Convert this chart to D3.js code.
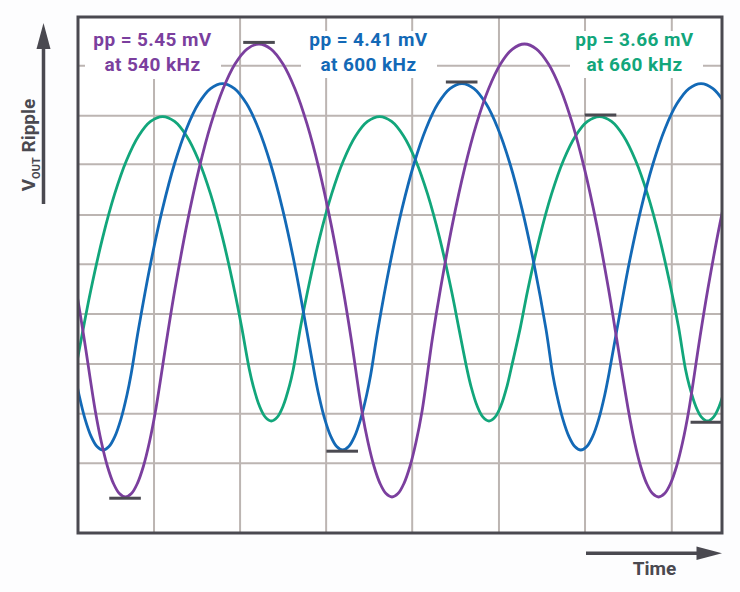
<!DOCTYPE html>
<html><head><meta charset="utf-8">
<script src="https://cdn.jsdelivr.net/npm/d3@7"></script>
<style>
html,body{margin:0;padding:0;background:#fdfdfe;}
svg{display:block;}
text{font-family:Roboto,"Liberation Sans",sans-serif;font-weight:700;}
</style></head><body>
<svg id="chart" width="740" height="592"></svg>
<script>
// ---- data (time in µs, ripple in mV) ----
const timeDomain = [0, 4.49];
const rippleDomain = [-3.183, 3.027];
const gridTimes = [0.53, 1.13, 1.73, 2.33, 2.935, 3.535, 4.14];
const gridRipples = [2.441, 1.839, 1.254, 0.644, 0.051, -0.548, -1.149, -1.747, -2.344];

// extrema of each trace (time, value, kind)
const purpleExtT = [-0.5996, 0.3305, 1.2619, 2.1892, 3.1130, 4.0480, 4.9773];
const purpleExtV = [2.702, -2.750, 2.702, -2.750, 2.702, -2.750, 2.702];
const blueExtT = [0.1743, 1.0075, 1.8455, 2.6772, 3.5055, 4.3436];
const blueExtV = [-2.184, 2.226, -2.184, 2.226, -2.184, 2.226];
const greenExtT = [-0.1715, 0.5898, 1.3477, 2.1027, 2.8655, 3.6359, 4.3888];
const greenExtV = [-1.835, 1.829, -1.835, 1.829, -1.835, 1.829, -1.835];

// measured wave profile around a trough / a peak: time offset (µs) -> distance from the extreme (mV)
const purpleTroughDt = [0.0418, 0.0837, 0.1255, 0.1673, 0.2092];
const purpleTroughDv = [0.0412, 0.1646, 0.3704, 0.6586, 1.0290];
const purplePeakDt = [0.0837, 0.1673, 0.2510, 0.3347, 0.4183, 0.5020, 0.5856, 0.6414];
const purplePeakDv = [0.0602, 0.2406, 0.5412, 0.9622, 1.5034, 2.1649, 2.9467, 3.5347];

const blueTroughDt = [0.0418, 0.0837, 0.1255, 0.1673, 0.1952];
const blueTroughDv = [0.0416, 0.1664, 0.3743, 0.6655, 0.9058];
const bluePeakDt = [0.0837, 0.1673, 0.2510, 0.3347, 0.4183, 0.5020, 0.5856];
const bluePeakDv = [0.0603, 0.2412, 0.5428, 0.9650, 1.5077, 2.1711, 2.9552];

const greenTroughDt = [0.0418, 0.0837, 0.1255, 0.1534];
const greenTroughDv = [0.0464, 0.1854, 0.4172, 0.6233];
const greenPeakDt = [0.0837, 0.1673, 0.2510, 0.3347, 0.4183, 0.5020, 0.5508];
const greenPeakDv = [0.0584, 0.2336, 0.5256, 0.9344, 1.4601, 2.1025, 2.5311];

const seriesPP = ["pp = 5.45 mV", "pp = 4.41 mV", "pp = 3.66 mV"];
const seriesFreq = ["at 540 kHz", "at 600 kHz", "at 660 kHz"];
// peak-to-peak markers
const markerT = [1.262, 0.328, 2.675, 1.842, 3.643, 4.381];
const markerV = [2.702, -2.750, 2.226, -2.184, 1.829, -1.835];
const markerKind = ["max", "min", "max", "min", "max", "min"];

// ---- layout / styles ----
const colors = ["#7b3f9e", "#1369b6", "#12a67b"];
const ink = "#4a4950";
const P = {left: 78, top: 17, right: 722, bottom: 533};
const labelBoxes = [[85, 17, 136, 62], [301, 31, 136, 47], [570, 31, 133, 47]];
const labelCX = [152.5, 368.5, 634.5];

const svg = d3.select("#chart");
const x = d3.scaleLinear().domain(timeDomain).range([P.left, P.right]);
const y = d3.scaleLinear().domain(rippleDomain).range([P.bottom, P.top]);

// build the point table of one trace from its extrema and its measured profiles
function trace(extT, extV, trDt, trDv, pkDt, pkDv) {
  const pts = [];
  extT.forEach((t, i) => {
    const v = extV[i];
    const isPeak = i > 0 ? v > extV[i - 1] : v > extV[i + 1];
    const dts = isPeak ? pkDt : trDt, dvs = isPeak ? pkDv : trDv;
    const sgn = isPeak ? -1 : 1;
    pts.push([t, v]);
    dts.forEach((dt, k) => {
      pts.push([t - dt, v + sgn * dvs[k]]);
      pts.push([t + dt, v + sgn * dvs[k]]);
    });
  });
  return pts.sort((a, b) => a[0] - b[0]);
}

svg.append("rect").attr("x", P.left).attr("y", P.top)
  .attr("width", P.right - P.left).attr("height", P.bottom - P.top).attr("fill", "#ffffff");

const grid = svg.append("g").attr("stroke", "#bcb5b2").attr("stroke-width", 2);
grid.selectAll("line.v").data(gridTimes).join("line").attr("class", "v")
  .attr("x1", d => x(d)).attr("x2", d => x(d)).attr("y1", P.top).attr("y2", P.bottom);
grid.selectAll("line.h").data(gridRipples).join("line").attr("class", "h")
  .attr("x1", P.left).attr("x2", P.right).attr("y1", d => y(d)).attr("y2", d => y(d));

svg.append("g").selectAll("rect").data(labelBoxes).join("rect")
  .attr("x", d => d[0]).attr("y", d => d[1]).attr("width", d => d[2]).attr("height", d => d[3])
  .attr("fill", "#ffffff");

svg.append("clipPath").attr("id", "clip").append("rect")
  .attr("x", P.left).attr("y", P.top).attr("width", P.right - P.left).attr("height", P.bottom - P.top);

const series = [
  trace(purpleExtT, purpleExtV, purpleTroughDt, purpleTroughDv, purplePeakDt, purplePeakDv),
  trace(blueExtT, blueExtV, blueTroughDt, blueTroughDv, bluePeakDt, bluePeakDv),
  trace(greenExtT, greenExtV, greenTroughDt, greenTroughDv, greenPeakDt, greenPeakDv)
];
const line = d3.line().x(d => x(d[0])).y(d => y(d[1])).curve(d3.curveCatmullRom.alpha(0.5));
const drawOrder = [2, 1, 0];
svg.append("g").attr("clip-path", "url(#clip)")
  .selectAll("path").data(drawOrder).join("path")
  .attr("d", i => line(series[i]))
  .attr("fill", "none").attr("stroke", i => colors[i])
  .attr("stroke-width", 2.8).attr("stroke-linejoin", "round");

const mk = d3.range(markerT.length);
svg.append("g").attr("clip-path", "url(#clip)").selectAll("line").data(mk).join("line")
  .attr("x1", i => x(markerT[i]) - 15.8).attr("x2", i => x(markerT[i]) + 15.8)
  .attr("y1", i => y(markerV[i]) + (markerKind[i] === "max" ? -1.6 : 1.2))
  .attr("y2", i => y(markerV[i]) + (markerKind[i] === "max" ? -1.6 : 1.2))
  .attr("stroke", "#4b4a51").attr("stroke-width", 3);

svg.append("rect").attr("x", P.left).attr("y", P.top)
  .attr("width", P.right - P.left).attr("height", P.bottom - P.top)
  .attr("fill", "none").attr("stroke", ink).attr("stroke-width", 3);

const lab = svg.append("g").attr("text-anchor", "middle").attr("font-size", 19).style("letter-spacing", "0.4px");
seriesPP.forEach((s, i) => {
  lab.append("text").attr("x", labelCX[i]).attr("y", 46).attr("fill", colors[i]).text(s);
  lab.append("text").attr("x", labelCX[i]).attr("y", 71).attr("fill", colors[i]).text(seriesFreq[i]);
});

// y axis label + arrow
const yl = svg.append("text").attr("transform", "translate(35,145) rotate(-90)")
  .attr("text-anchor", "middle").attr("font-size", 19).attr("fill", ink);
yl.append("tspan").text("V");
yl.append("tspan").attr("font-size", 11).attr("dy", 5).text("OUT");
yl.append("tspan").attr("dy", -5).text(" Ripple");
svg.append("line").attr("x1", 43.5).attr("x2", 43.5).attr("y1", 204).attr("y2", 45)
  .attr("stroke", ink).attr("stroke-width", 3.5);
svg.append("path").attr("d", "M43.5,23 L36.5,49 L50.5,49 Z").attr("fill", ink);

// time axis label + arrow
svg.append("line").attr("x1", 586).attr("x2", 700).attr("y1", 553.3).attr("y2", 553.3)
  .attr("stroke", ink).attr("stroke-width", 3.5);
svg.append("path").attr("d", "M722,553.3 L696.5,546.5 L696.5,560 Z").attr("fill", ink);
svg.append("text").attr("x", 654.5).attr("y", 575).attr("text-anchor", "middle")
  .attr("font-size", 19).attr("fill", ink).text("Time");
</script>
</body></html>
